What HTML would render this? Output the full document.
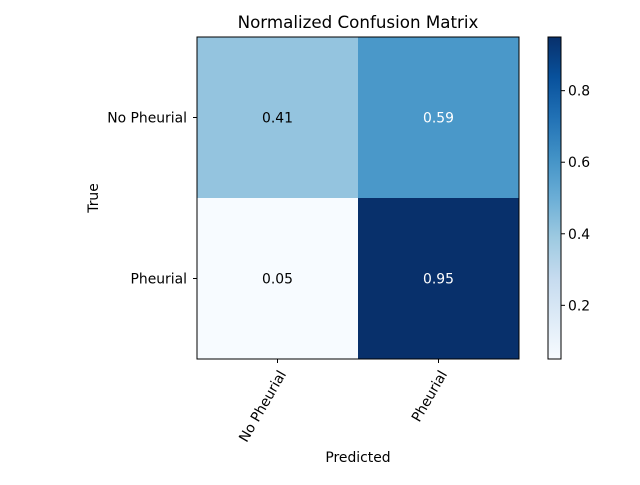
<!DOCTYPE html>
<html><head><meta charset="utf-8"><style>
body{margin:0;background:#fff}
text{font-family:"DejaVu Sans","Liberation Sans",sans-serif;font-size:13.9px}
</style></head><body>
<svg id="chart" width="640" height="480" xmlns="http://www.w3.org/2000/svg">
<defs><linearGradient id="blues" x1="0" y1="1" x2="0" y2="0">
<stop offset="0" stop-color="#f7fbff"/><stop offset="0.125" stop-color="#deebf7"/><stop offset="0.25" stop-color="#c6dbef"/><stop offset="0.375" stop-color="#9ecae1"/><stop offset="0.5" stop-color="#6baed6"/><stop offset="0.625" stop-color="#4292c6"/><stop offset="0.75" stop-color="#2171b5"/><stop offset="0.875" stop-color="#08519c"/><stop offset="1" stop-color="#08306b"/>
</linearGradient></defs>
<text x="358" y="28" text-anchor="middle" style="font-size:16.7px">Normalized Confusion Matrix</text>
<g id="cells"></g>
<rect x="197" y="37" width="322" height="322" fill="none" stroke="#000" stroke-width="1"/>
<g id="axes"></g>
<text x="358" y="462" text-anchor="middle">Predicted</text>
<text transform="translate(98,198) rotate(-90)" text-anchor="middle">True</text>
<rect x="548" y="37" width="13" height="322" fill="url(#blues)" stroke="#000" stroke-width="1"/>
<g id="cbticks"></g>
</svg>
<script>
const categories=["No Pheurial","Pheurial"];
const values=[[0.41,0.59],[0.05,0.95]];
const cbTicks=[0.2,0.4,0.6,0.8];
const vmin=0.05, vmax=0.95;
const stops=[[0,[247,251,255]],[0.125,[222,235,247]],[0.25,[198,219,239]],[0.375,[158,202,225]],[0.5,[107,174,214]],[0.625,[66,146,198]],[0.75,[33,113,181]],[0.875,[8,81,156]],[1,[8,48,107]]];
function cmap(v){let t=(v-vmin)/(vmax-vmin);t=Math.max(0,Math.min(1,t));
for(let i=1;i<stops.length;i++){if(t<=stops[i][0]){const a=stops[i-1],b=stops[i];const f=(t-a[0])/(b[0]-a[0]);
const c=a[1].map((x,k)=>Math.round(x+(b[1][k]-x)*f));return `rgb(${c.join(',')})`;}}return 'rgb(8,48,107)';}
const X0=197,Y0=37,S=322,n=categories.length,cw=S/n;
const xs=i=>X0+cw*i, ys=i=>Y0+cw*i;
const cbY=v=>359-(v-vmin)/(vmax-vmin)*322;
const NS="http://www.w3.org/2000/svg";
const mk=(t,a,p)=>{const e=document.createElementNS(NS,t);for(const k in a)e.setAttribute(k,a[k]);p.appendChild(e);return e;};
const cells=document.getElementById('cells'),axes=document.getElementById('axes'),cb=document.getElementById('cbticks');
values.forEach((row,r)=>row.forEach((v,c)=>{
const rc=mk('rect',{x:xs(c),y:ys(r),width:cw,height:cw,fill:cmap(v)},cells);


const tx=mk('text',{x:xs(c)+cw/2,y:ys(r)+cw/2+5,'text-anchor':'middle',fill:v>(vmin+vmax)/2?'#fff':'#000'},cells);
tx.textContent=v.toFixed(2);


}));
categories.forEach((c,i)=>{
const cx=xs(i)+cw/2, cy=ys(i)+cw/2;
mk('line',{x1:cx,y1:359,x2:cx,y2:363,stroke:'#000'},axes);
const t=mk('text',{'text-anchor':'end',transform:`translate(${cx+9},${374}) rotate(-60)`},axes);
t.textContent=c;


mk('line',{x1:193,y1:cy,x2:197,y2:cy,stroke:'#000'},axes);
const u=mk('text',{x:187,y:cy+5,'text-anchor':'end'},axes);
u.textContent=c;


});
cbTicks.forEach(v=>{
const y=cbY(v);
mk('line',{x1:561,y1:y,x2:565,y2:y,stroke:'#000'},cb);
const t=mk('text',{x:568,y:y+5},cb);
t.textContent=v.toFixed(1);


});
</script>
</body></html>
